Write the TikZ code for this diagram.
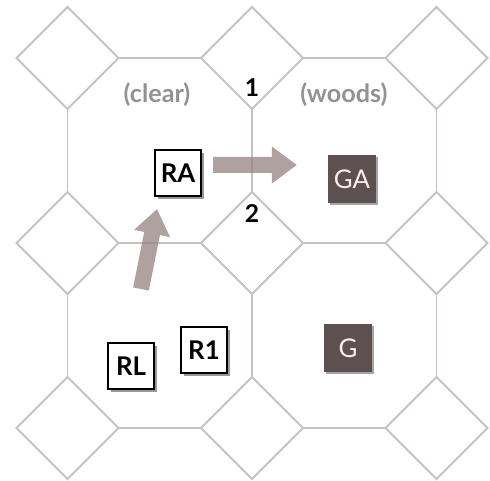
\documentclass[tikz,border=0pt]{standalone}
\usepackage{fontspec}
\setmainfont{Lato}
\usetikzlibrary{arrows.meta,shadows}

\definecolor{gridgray}{RGB}{200,193,192}
\definecolor{labgray}{RGB}{150,145,145}
\definecolor{arrgray}{RGB}{150,130,130}
\definecolor{boxdark}{RGB}{92,80,80}

\tikzset{
  wbox/.style={draw=black, fill=white, line width=1.8pt, minimum size=1.36cm,
    font=\bfseries\fontsize{22}{22}\selectfont, inner sep=0pt,
    drop shadow={shadow xshift=2.5pt, shadow yshift=-2.5pt, opacity=0.8}},
  dbox/.style={fill=boxdark, minimum size=1.44cm, text=white!92!red,
    font=\fontsize{22}{22}\selectfont, inner sep=0pt,
    drop shadow={shadow xshift=2pt, shadow yshift=-2pt, opacity=0.7}},
  region/.style={text=labgray, font=\bfseries\fontsize{21.5}{21.5}\selectfont},
  gate/.style={font=\bfseries\fontsize{21}{21}\selectfont},
  fatarrow/.style={draw=arrgray, line width=0.48cm,
    -{Triangle[width=1.05cm, length=0.75cm]}}
}

\begin{document}
\begin{tikzpicture}[x=0.03cm, y=-0.03cm]
\useasboundingbox (0,0) rectangle (490,481);

% diamonds and octagon edges
\foreach \cx in {67.5,252,436.5}
  \foreach \cy in {58,243,428}
    \draw[gridgray, line width=1.6pt] (\cx-51,\cy) -- (\cx,\cy-51) -- (\cx+51,\cy) -- (\cx,\cy+51) -- cycle;
\foreach \cy in {58,243,428} {
  \draw[gridgray, line width=1.6pt] (118.5,\cy) -- (201,\cy);
  \draw[gridgray, line width=1.6pt] (303,\cy) -- (385.5,\cy);
}
\foreach \cx in {67.5,252,436.5} {
  \draw[gridgray, line width=1.6pt] (\cx,109) -- (\cx,192);
  \draw[gridgray, line width=1.6pt] (\cx,294) -- (\cx,377);
}

\node[region] (clear) at (157,95) {(clear)};
\node[region] (woods) at (344,95) {(woods)};
\node[gate] (g1) at (252,88) {1};
\node[gate] (g2) at (252,214) {2};

% moves
\coordinate (m1s) at (213,165);
\coordinate (m1e) at (297,165);
\coordinate (m2s) at (141,289);
\coordinate (m2e) at (157,209);
\begin{scope}[transparency group, opacity=0.75]
\draw[fatarrow] (m1s) -- (m1e);
\draw[fatarrow] (m2s) -- (m2e);
\end{scope}

\node[wbox] (ra) at (178,173) {RA};
\node[dbox] (ga) at (352,179) {GA};
\node[wbox] (rl) at (131,366) {RL};
\node[wbox] (r1) at (204,350) {R1};
\node[dbox] (g) at (348,348) {G};
\end{tikzpicture}
\end{document}
